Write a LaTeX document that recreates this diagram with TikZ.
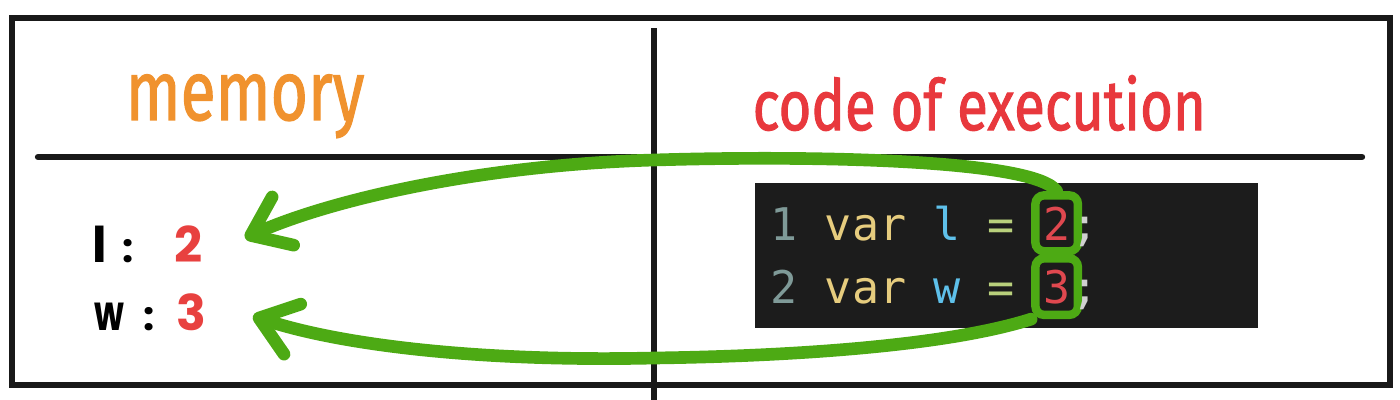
\documentclass[tikz,border=0pt]{standalone}
\usepackage{fontspec}
\usepackage{graphicx}
\usepackage{tikz}
\usetikzlibrary{positioning,fit,arrows.meta}
\newfontfamily\titlefont{Fira Sans}[FakeBold=1.6]
\newfontfamily\labelfont{Poppins}
\newfontfamily\codefont{DejaVu Sans Mono}
\definecolor{memorange}{HTML}{F0922E}
\definecolor{execred}{HTML}{E8383D}
\definecolor{valred}{HTML}{E8413F}
\definecolor{arrowgreen}{HTML}{4DAA14}
\definecolor{codebg}{HTML}{1C1C1C}
\definecolor{lnum}{HTML}{7F9A98}
\definecolor{kw}{HTML}{E6CC7E}
\definecolor{idf}{HTML}{5EC0EA}
\definecolor{op}{HTML}{B9D07C}
\definecolor{numred}{HTML}{E0484F}
\definecolor{semi}{HTML}{D0D0D0}

\begin{document}
\begin{tikzpicture}
[
    x = 0.01cm, y = -0.01cm,
    frame/.style = {line width = 1.5pt, draw = black!90},
    title/.style = {inner sep = 0, anchor = base west},
    memlabel/.style = {inner sep = 0, anchor = base west, font = \labelfont\bfseries\fontsize{14}{16}\selectfont},
    memvalue/.style = {memlabel, text = valred},
    codeline/.style = {inner sep = 0, font = \codefont\fontsize{12.8}{15}\selectfont},
    hlbox/.style = {draw = arrowgreen, line width = 2.4pt, rounded corners = 2.5pt, inner xsep = 2pt, inner ysep = 3pt},
    flow/.style = {draw = arrowgreen, line width = 3.6pt, line cap = round,
        -{Straight Barb[length = 10pt, width = 15pt, round]}},
]
\useasboundingbox (0,0) rectangle (1400,400);

\draw[frame] (12,18) rectangle (1390,385);
\draw[frame, line width = 1.8pt, line cap = round] (38,157) -- (1362,157);
\draw[frame] (654,28) -- (654,400);

\node[title] (memtitle) at (125,120)
    {\scalebox{0.76}[1]{\titlefont\fontsize{24}{28}\selectfont\color{memorange}memory}};
\node[title] (exectitle) at (752,130)
    {\scalebox{0.8}[1]{\titlefont\fontsize{20}{24}\selectfont\color{execred}code of execution}};

\node[memlabel] (lname) at (92,262) {l};
\node[memlabel] (lcolon) at (122,262) {\scalebox{0.8}{:}};
\node[memvalue] (lval) at (174,262) {2};
\node[memlabel] (wname) at (94,330) {\scalebox{0.7}[1]{w}};
\node[memlabel] (wcolon) at (143,330) {\scalebox{0.8}{:}};
\node[memvalue] (wval) at (176,330) {3};

\fill[codebg] (755,183) rectangle (1258,328);

\node[codeline, anchor = base west] (code1) at (770,240)
    {\textcolor{lnum}{1} \textcolor{kw}{var} \textcolor{idf}{l} \textcolor{op}{=}\hbox{\ }};
\node[codeline, text = numred, base right = 0pt of code1] (num1) {2};
\node[codeline, anchor = base west] (code2) at (770,303)
    {\textcolor{lnum}{2} \textcolor{kw}{var} \textcolor{idf}{w} \textcolor{op}{=}\hbox{\ }};
\node[codeline, text = numred, base right = 0pt of code2] (num2) {3};

\node[hlbox, fit = (num1)] (box1) {};
\node[hlbox, fit = (num2)] (box2) {};

\node[codeline, text = semi, base right = 0pt of num1] (semi1) {;};
\node[codeline, text = semi, base right = 0pt of num2] (semi2) {;};

\coordinate (tip1) at (245,238);
\coordinate (tip2) at (253,316);

\draw[flow] (box1.north) .. controls (1035,160) and (820,155) .. (654,160)
    .. controls (480,165) and (330,200) .. (tip1);
\draw[flow] (box2.south west) .. controls (950,345) and (800,356) .. (654,358)
    .. controls (480,362) and (340,345) .. (tip2);
\end{tikzpicture}
\end{document}
